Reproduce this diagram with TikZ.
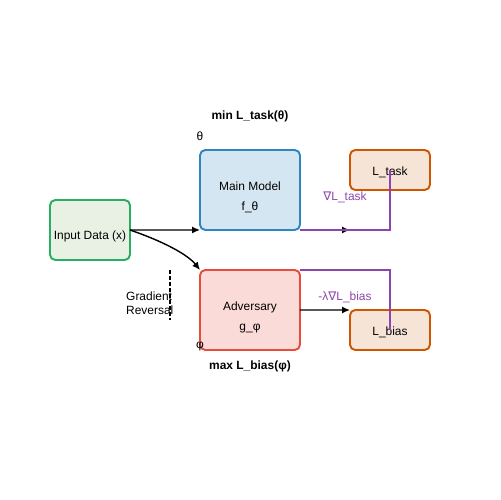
\documentclass[tikz,border=0pt]{standalone}
\usepackage{fontspec}
\setmainfont{Liberation Sans}
\newfontfamily\symfont{DejaVu Sans}
\usetikzlibrary{positioning,arrows.meta}
\definecolor{modelfill}{HTML}{D4E6F1}
\definecolor{modeldraw}{HTML}{2E86C1}
\definecolor{inputfill}{HTML}{E9F1E5}
\definecolor{inputdraw}{HTML}{27AE60}
\definecolor{advfill}{HTML}{FADBD8}
\definecolor{advdraw}{HTML}{E74C3C}
\definecolor{lossfill}{HTML}{F6E5D6}
\definecolor{lossdraw}{HTML}{D35400}
\definecolor{gradcol}{HTML}{8E44AD}

\begin{document}
\begin{tikzpicture}[x=0.02cm,y=-0.02cm,
        font=\fontsize{6.8}{8.2}\selectfont,
        box/.style={draw,rounded corners=3pt,line width=1.1pt,align=center,inner sep=0pt,outer sep=0pt},
        bigbox/.style={box,minimum width=2cm,minimum height=1.6cm,text height=25pt},
        lossbox/.style={box,fill=lossfill,draw=lossdraw,minimum width=1.6cm,minimum height=0.8cm,text height=7.5pt},
        arr/.style={-{Latex[length=4.5pt,width=4pt]},line width=0.8pt},
        grad/.style={gradcol,line width=1pt},
        gradlabel/.style={text=gradcol},
        objective/.style={font=\fontsize{6.8}{8.2}\selectfont\bfseries}]
        \useasboundingbox (0,0) rectangle (500,500);
        \node[box,fill=inputfill,draw=inputdraw,minimum width=1.6cm,minimum height=1.2cm,text height=12pt] (input) at (90,230) {Input Data (x)};
        \node[bigbox,fill=modelfill,draw=modeldraw] (model) at (250,190) {Main Model\\[3.2pt] f\_θ};
        \node[bigbox,fill=advfill,draw=advdraw] (adv) at (250,310) {Adversary\\[3.2pt] g\_φ};
        \node[lossbox] (ltask) at (390,170) {L\_task};
        \node[lossbox] (lbias) at (390,330) {L\_bias};
        % forward pass
        \draw[arr] (input.east) -- (model.south west);
        \draw[arr] (input.east) .. controls (165,242) and (188,255) .. (adv.north west);
        \draw[arr] (model.south east) -- (ltask.west |- model.south east);
        \draw[arr] (adv.east) -- (lbias.north west);
        % gradients
        \draw[grad] (model.south east) -| (ltask.center);
        \draw[grad] (lbias.center) |- (adv.north east);
        \node[gradlabel] (gtask) at (345,197) {{\symfont ∇}L\_task};
        \node[gradlabel] (gbias) at (345,297) {-λ{\symfont ∇}L\_bias};
        \draw[dashed,dash pattern=on 0.08cm off 0.04cm,line width=1.1pt] (170,270) coordinate (grtop) -- (170,320) coordinate (grbot);
        \node[anchor=west,align=left] (grl) at (120,303) {Gradient\\Reversal};
        \node (theta) at (200,136) {θ};
        \node (phi) at (200,347) {φ};
        \node[objective] (mintask) at (250,116) {min L\_task(θ)};
        \node[objective] (maxbias) at (250,366) {max L\_bias(φ)};
\end{tikzpicture}
\end{document}
